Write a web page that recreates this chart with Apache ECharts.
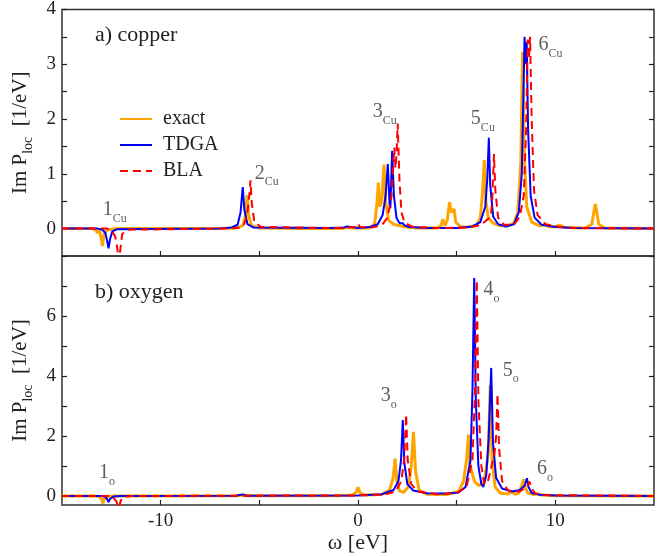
<!DOCTYPE html>
<html>
<head>
<meta charset="utf-8">
<script src="https://cdn.jsdelivr.net/npm/echarts@6/dist/echarts.min.js"></script>
<style>
  html, body { margin: 0; padding: 0; background: #fff; }
  #myChart { width: 669px; height: 556px; }
</style>
</head>
<body>
<div id="myChart"></div>
<script>
// copper spectra [omega, Im P]
let cuExact = [[-15,0],[-13.5,0],[-13.3,-0.02],[-13.2,-0.08],[-13.1,-0.03],[-13.0,-0.2],[-12.95,-0.32],[-12.88,-0.12],[-12.75,-0.03],[-12.5,-0.01],[-12.2,0],
  [-7,0],[-6.2,0.01],[-5.85,0.05],[-5.72,0.2],[-5.62,0.61],[-5.55,0.25],[-5.4,0.06],[-5.0,0.01],[-3,0],
  [-0.8,0],[-0.5,0.02],[-0.4,0.04],[-0.3,0.01],[0.5,0.01],[0.7,0.04],[0.85,0.1],[0.97,0.5],[1.03,0.84],[1.1,0.4],[1.2,0.5],[1.27,0.9],[1.32,1.17],[1.4,0.5],[1.55,0.15],[1.8,0.08],[1.9,0.1],[2.0,0.06],[2.4,0.03],[3,0.01],
  [4.0,0.01],[4.2,0.05],[4.3,0.17],[4.4,0.05],[4.52,0.15],[4.64,0.48],[4.72,0.3],[4.8,0.28],[4.87,0.36],[4.95,0.12],[5.2,0.03],[5.5,0.03],[5.57,0.06],[5.65,0.03],
  [6.0,0.06],[6.2,0.2],[6.32,0.7],[6.4,1.25],[6.48,0.5],[6.6,0.2],[6.7,0.22],[6.85,0.1],[7.2,0.05],[7.6,0.05],[7.9,0.1],[8.1,0.3],[8.25,1.2],[8.34,3.23],[8.42,1.4],[8.55,0.4],[8.8,0.12],
  [9.2,0.05],[9.5,0.07],[9.7,0.03],[10.0,0.04],[10.25,0.06],[10.5,0.02],[11.5,0.01],[11.85,0.08],[11.95,0.3],[12.03,0.45],[12.1,0.3],[12.2,0.08],[12.5,0.01],[15,0]]
let cuTdga = [[-15,0],[-13.2,0],[-12.95,-0.02],[-12.8,-0.08],[-12.7,-0.25],[-12.64,-0.36],[-12.57,-0.2],[-12.45,-0.05],[-12.2,-0.01],
  [-7,0],[-6.4,0.02],[-6.1,0.07],[-5.95,0.3],[-5.84,0.76],[-5.76,0.35],[-5.6,0.08],[-5.3,0.02],[-1.5,0.01],[-0.7,0.02],[-0.55,0.04],[-0.46,0.06],[-0.35,0.03],[0,0.01],
  [0.6,0.03],[1.0,0.08],[1.25,0.25],[1.4,0.6],[1.51,1.18],[1.6,0.45],[1.64,0.37],[1.73,1.42],[1.82,0.6],[1.95,0.2],[2.1,0.1],[2.2,0.08],[2.27,0.1],[2.35,0.06],[2.6,0.03],[3.5,0.01],
  [5.0,0.01],[5.8,0.04],[6.2,0.12],[6.45,0.4],[6.55,0.9],[6.63,1.66],[6.7,0.8],[6.85,0.22],[7.1,0.08],[7.5,0.04],[7.9,0.08],[8.15,0.3],[8.3,1.0],[8.38,2.4],[8.44,3.5],[8.5,3.0],[8.55,3.4],[8.62,1.8],[8.75,0.6],[8.95,0.2],
  [9.3,0.07],[10,0.03],[11,0.01],[15,0]]
let cuBla = [[-15,0],[-12.7,0],[-12.45,-0.05],[-12.3,-0.15],[-12.2,-0.35],[-12.12,-0.6],[-12.05,-0.4],[-11.95,-0.1],[-11.7,-0.02],
  [-7,0],[-6.1,0.01],[-5.8,0.05],[-5.62,0.25],[-5.52,0.55],[-5.45,0.88],[-5.38,0.45],[-5.25,0.12],[-4.9,0.03],[-1,0.01],[-0.15,0.03],[0,0.09],[0.1,0.03],
  [0.7,0.02],[1.2,0.06],[1.5,0.2],[1.7,0.6],[1.84,1.48],[1.9,1.1],[1.96,1.4],[2.01,1.92],[2.1,0.9],[2.2,0.3],[2.35,0.12],[2.44,0.12],[2.5,0.08],[2.8,0.03],[4,0.01],
  [5.5,0.02],[6.2,0.06],[6.5,0.15],[6.68,0.2],[6.75,0.3],[6.8,0.5],[6.89,1.36],[6.96,0.7],[7.1,0.2],[7.4,0.07],[7.9,0.07],[8.2,0.22],[8.4,0.6],[8.52,1.8],[8.6,3.45],[8.66,3.1],[8.72,3.5],[8.8,2.0],[8.92,0.7],[9.1,0.25],
  [9.5,0.08],[10.2,0.03],[11,0.01],[15,0]]

// oxygen spectra
let oExact = [[-15,0],[-13.3,0],[-13.1,-0.03],[-13.0,-0.1],[-12.93,-0.24],[-12.85,-0.08],[-12.7,-0.02],[-12.4,0],[-6.2,0.01],[-5.85,0.03],[-5.6,0.01],
  [-1,0.01],[-0.3,0.03],[-0.1,0.12],[0,0.29],[0.1,0.12],[0.3,0.03],[1.2,0.05],[1.6,0.2],[1.78,0.6],[1.88,1.25],[1.97,0.5],[2.1,0.18],[2.3,0.12],[2.55,0.3],[2.7,1.0],[2.81,2.14],[2.92,0.8],[3.1,0.2],[3.5,0.06],
  [4.5,0.05],[5.1,0.15],[5.35,0.5],[5.5,1.2],[5.6,2.05],[5.68,1.0],[5.9,0.5],[6.1,0.35],[6.3,0.4],[6.4,0.48],[6.5,0.5],[6.6,1.4],[6.7,3.7],[6.8,1.2],[6.95,0.3],[7.2,0.1],[7.6,0.07],[7.8,0.14],[7.95,0.06],
  [8.15,0.1],[8.3,0.35],[8.39,0.56],[8.47,0.3],[8.6,0.1],[8.9,0.05],[9.1,0.08],[9.3,0.03],[10,0.01],[15,0]]
let oTdga = [[-15,0],[-13.0,0],[-12.8,-0.03],[-12.7,-0.12],[-12.64,-0.2],[-12.57,-0.1],[-12.4,-0.02],[-12,0],[-6.2,0.01],[-5.85,0.05],[-5.6,0.01],[0,0.02],
  [1.2,0.06],[1.8,0.2],[2.05,0.5],[2.18,1.2],[2.27,2.53],[2.35,1.1],[2.5,0.4],[2.8,0.18],[3.5,0.09],[4.5,0.08],[5.1,0.12],[5.45,0.3],[5.7,1.2],[5.8,3.5],[5.89,7.27],[5.97,3.2],[6.1,1.0],[6.25,0.4],[6.35,0.3],
  [6.5,0.7],[6.62,1.9],[6.75,4.27],[6.84,1.8],[7.0,0.6],[7.3,0.25],[7.8,0.15],[8.2,0.2],[8.45,0.35],[8.56,0.59],[8.64,0.3],[8.8,0.1],[9.2,0.04],[10,0.02],[15,0]]
let oBla = [[-15,0],[-12.6,0],[-12.4,-0.05],[-12.25,-0.18],[-12.12,-0.4],[-12.02,-0.15],[-11.85,-0.03],[-11.5,0],[0,0.02],
  [1.3,0.04],[1.9,0.15],[2.2,0.5],[2.35,1.3],[2.44,2.72],[2.52,1.2],[2.7,0.4],[3.0,0.15],[4,0.06],[5,0.1],[5.5,0.3],[5.8,1.2],[5.93,3.5],[6.02,7.19],[6.1,3.2],[6.25,1.0],[6.4,0.4],[6.55,0.4],
  [6.7,0.8],[6.8,1.1],[6.9,1.3],[7.0,2.0],[7.07,3.4],[7.15,1.6],[7.3,0.5],[7.6,0.18],[8.2,0.15],[8.55,0.3],[8.7,0.48],[8.78,0.25],[9.0,0.08],[9.5,0.03],[15,0]]

// peak labels [omega, y, number, subscript]
let cuNotes = [[-12.93,0.34,'1','Cu'],[-5.23,1.01,'2','Cu'],[0.75,2.14,'3','Cu'],[5.72,2.0,'5','Cu'],[9.15,3.36,'6','Cu']]
let oNotes = [[-13.13,0.78,'1','o'],[1.15,3.34,'3','o'],[6.36,6.88,'4','o'],[7.34,4.19,'5','o'],[9.07,0.92,'6','o']]

let xTicks = [-10, -5, 0, 5, 10]
let xLabels = [-10, 0, 10]
let cuTicks = [0, 0.5, 1, 1.5, 2, 2.5, 3, 3.5, 4]
let cuLabels = [0, 1, 2, 3, 4]
let oTicks = [0, 1, 2, 3, 4, 5, 6, 7, 8]
let oLabels = [0, 2, 4, 6]

let font = 'Liberation Serif'
let ink = '#222'

function xAxisOf(grid, withLabels) {
  return {
    type: 'value', gridIndex: grid, min: -15, max: 15,
    axisLine: { show: false, onZero: false },
    axisTick: { inside: true, length: 5, customValues: xTicks, lineStyle: { color: ink, width: 1.2 } },
    axisLabel: { show: withLabels, customValues: xLabels, margin: 7, fontFamily: font, fontSize: 19, color: ink },
    splitLine: { show: false },
    name: withLabels ? 'ω [eV]' : '', nameLocation: 'middle', nameGap: 25,
    nameTextStyle: { fontFamily: font, fontSize: 22, color: ink }
  }
}
function yAxisOf(grid, min, max, ticks, labels, right) {
  return {
    type: 'value', gridIndex: grid, min: min, max: max, position: right ? 'right' : 'left',
    axisLine: { show: false, onZero: false },
    axisTick: { inside: true, length: 5, customValues: ticks, lineStyle: { color: ink, width: 1.2 } },
    axisLabel: { show: !right, customValues: labels, margin: 6, fontFamily: font, fontSize: 19, color: ink },
    splitLine: { show: false },
    name: right ? '' : '{a|Im P}{s|loc}{a|  [1/eV]}', nameLocation: 'middle', nameGap: 21,
    nameTextStyle: {
      fontFamily: font, color: ink,
      rich: {
        a: { fontFamily: font, fontSize: 21, color: ink, verticalAlign: 'middle' },
        s: { fontFamily: font, fontSize: 14, color: ink, verticalAlign: 'middle', padding: [16, 0, 0, 0] }
      }
    }
  }
}
function lineOf(name, data, axis, color, width, dash) {
  return {
    name: name, type: 'line', data: data, xAxisIndex: axis, yAxisIndex: axis,
    symbol: 'none', silent: true, animation: false,
    lineStyle: { color: color, width: width, type: dash ? [8, 5] : 'solid' },
    itemStyle: { color: color }
  }
}
function notesOf(data, axis) {
  return {
    type: 'scatter', data: data, xAxisIndex: axis, yAxisIndex: axis,
    symbolSize: 0, silent: true, animation: false,
    label: {
      show: true, position: 'right', distance: 0,
      formatter: p => '{n|' + p.data[2] + '}{s|' + p.data[3] + '}',
      rich: {
        n: { fontFamily: font, fontSize: 20, color: '#333', verticalAlign: 'middle' },
        s: { fontFamily: font, fontSize: 12, color: '#333', verticalAlign: 'middle', padding: [18, 0, 0, 0] }
      }
    }
  }
}

let myChart = echarts.init(document.getElementById('myChart'))
let option = {
  backgroundColor: '#fff',
  title: [
    { text: 'a) copper', left: 90, top: 19, textStyle: { fontFamily: font, fontSize: 22, fontWeight: 'normal', color: ink } },
    { text: 'b) oxygen', left: 90, top: 276, textStyle: { fontFamily: font, fontSize: 22, fontWeight: 'normal', color: ink } }
  ],
  legend: {
    data: ['exact', 'TDGA', 'BLA'], orient: 'vertical', left: 114, top: 104,
    itemWidth: 32, itemHeight: 14, itemGap: 6, selectedMode: false,
    itemStyle: { opacity: 0 },
    textStyle: { fontFamily: font, fontSize: 20, color: ink, padding: [0, 0, 0, 6] }
  },
  grid: [
    { left: 62, right: 15, top: 7, height: 249, show: true, borderColor: '#333', borderWidth: 1.5 },
    { left: 62, right: 15, top: 256, height: 249, show: true, borderColor: '#333', borderWidth: 1.5 }
  ],
  xAxis: [xAxisOf(0, false), xAxisOf(1, true)],
  yAxis: [
    yAxisOf(0, -0.5, 4, cuTicks, cuLabels, false),
    yAxisOf(1, -0.3, 8, oTicks, oLabels, false),
    yAxisOf(0, -0.5, 4, cuTicks, cuLabels, true),
    yAxisOf(1, -0.3, 8, oTicks, oLabels, true)
  ],
  series: [
    lineOf('exact', cuExact, 0, '#FFA500', 3, false),
    lineOf('TDGA', cuTdga, 0, '#0000FF', 2, false),
    lineOf('BLA', cuBla, 0, '#FF0000', 2, true),
    lineOf('exact', oExact, 1, '#FFA500', 3, false),
    lineOf('TDGA', oTdga, 1, '#0000FF', 2, false),
    lineOf('BLA', oBla, 1, '#FF0000', 2, true),
    notesOf(cuNotes, 0),
    notesOf(oNotes, 1)
  ]
}
myChart.setOption(option)

window.addEventListener('resize', () => {
  myChart.resize()
})
</script>
</body>
</html>
